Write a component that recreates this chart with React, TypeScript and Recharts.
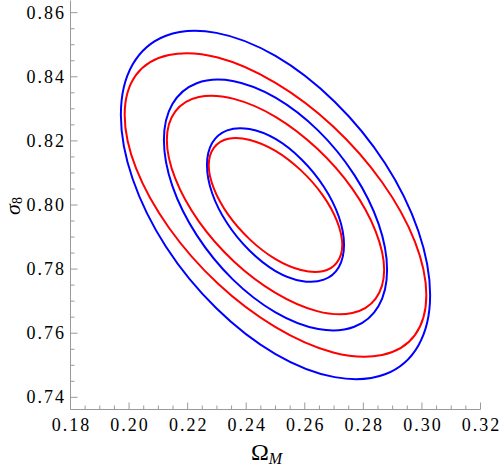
import React from 'react';
import { LineChart, Line, XAxis, YAxis } from 'recharts';

// contour points (Omega_M, sigma_8), 16 per ellipse
const blueOuter = [
  [0.3028, 0.7719], [0.2988, 0.7918], [0.2874, 0.8130], [0.2702, 0.8322],
  [0.2500, 0.8465], [0.2298, 0.8537], [0.2126, 0.8528], [0.2012, 0.8438],
  [0.1972, 0.8281], [0.2012, 0.8082], [0.2126, 0.7870], [0.2298, 0.7678],
  [0.2500, 0.7535], [0.2702, 0.7463], [0.2874, 0.7472], [0.2988, 0.7562],
];
const redOuter = [
  [0.3015, 0.7719], [0.2976, 0.7886], [0.2864, 0.8071], [0.2697, 0.8245],
  [0.2500, 0.8381], [0.2303, 0.8460], [0.2136, 0.8468], [0.2024, 0.8406],
  [0.1985, 0.8281], [0.2024, 0.8114], [0.2136, 0.7929], [0.2303, 0.7755],
  [0.2500, 0.7619], [0.2697, 0.7540], [0.2864, 0.7532], [0.2976, 0.7594],
];
const blueMid = [
  [0.2881, 0.7798], [0.2852, 0.7941], [0.2769, 0.8094], [0.2646, 0.8232],
  [0.2500, 0.8335], [0.2354, 0.8387], [0.2231, 0.8380], [0.2148, 0.8315],
  [0.2119, 0.8203], [0.2148, 0.8059], [0.2231, 0.7906], [0.2354, 0.7768],
  [0.2500, 0.7665], [0.2646, 0.7613], [0.2769, 0.7620], [0.2852, 0.7685],
];
const redMid = [
  [0.2871, 0.7798], [0.2842, 0.7918], [0.2762, 0.8051], [0.2642, 0.8176],
  [0.2500, 0.8275], [0.2358, 0.8331], [0.2238, 0.8337], [0.2158, 0.8292],
  [0.2129, 0.8203], [0.2158, 0.8082], [0.2238, 0.7949], [0.2358, 0.7824],
  [0.2500, 0.7726], [0.2642, 0.7669], [0.2762, 0.7663], [0.2842, 0.7708],
];
const blueInner = [
  [0.2734, 0.7876], [0.2716, 0.7964], [0.2665, 0.8057], [0.2589, 0.8142],
  [0.2500, 0.8206], [0.2411, 0.8237], [0.2335, 0.8233], [0.2284, 0.8194],
  [0.2266, 0.8124], [0.2284, 0.8036], [0.2335, 0.7943], [0.2411, 0.7858],
  [0.2500, 0.7794], [0.2589, 0.7763], [0.2665, 0.7767], [0.2716, 0.7806],
];
const redInner = [
  [0.2728, 0.7876], [0.2710, 0.7950], [0.2661, 0.8031], [0.2587, 0.8108],
  [0.2500, 0.8169], [0.2413, 0.8203], [0.2339, 0.8207], [0.2290, 0.8179],
  [0.2272, 0.8124], [0.2290, 0.8050], [0.2339, 0.7969], [0.2413, 0.7892],
  [0.2500, 0.7831], [0.2587, 0.7797], [0.2661, 0.7793], [0.2710, 0.7821],
];

const xTicks = [
  0.18, 0.185, 0.19, 0.195, 0.2, 0.205, 0.21, 0.215, 0.22, 0.225, 0.23, 0.235, 0.24, 0.245, 0.25,
  0.255, 0.26, 0.265, 0.27, 0.275, 0.28, 0.285, 0.29, 0.295, 0.3, 0.305, 0.31, 0.315, 0.32,
];
const yTicks = [
  0.74, 0.745, 0.75, 0.755, 0.76, 0.765, 0.77, 0.775, 0.78, 0.785, 0.79, 0.795, 0.8,
  0.805, 0.81, 0.815, 0.82, 0.825, 0.83, 0.835, 0.84, 0.845, 0.85, 0.855, 0.86,
];
const xLabels = [0.18, 0.2, 0.22, 0.24, 0.26, 0.28, 0.3, 0.32];
const yLabels = [0.74, 0.76, 0.78, 0.8, 0.82, 0.84, 0.86];

const FRAME = '#9a9a9a';
const SERIF = '"Liberation Serif", "Times New Roman", serif';
const BLUE = '#0000ff';
const RED = '#ff0000';

const isLabel = (list: number[], v: number) => list.some((t) => Math.abs(t - v) < 1e-6);
const toPoints = (arr: number[][]) => arr.map(([x, y]) => ({ x, y }));

// closed Catmull-Rom curve so the contours come out smooth and closed
const closedSpline = (context: any) => {
  let pts: number[][] = [];
  return {
    areaStart() {},
    areaEnd() {},
    lineStart() {
      pts = [];
    },
    point(x: number, y: number) {
      pts.push([+x, +y]);
    },
    lineEnd() {
      const n = pts.length;
      if (!n) return;
      context.moveTo(pts[0][0], pts[0][1]);
      for (let i = 0; i < n; i++) {
        const a = pts[(i + n - 1) % n];
        const b = pts[i];
        const c = pts[(i + 1) % n];
        const d = pts[(i + 2) % n];
        context.bezierCurveTo(
          b[0] + (c[0] - a[0]) / 6, b[1] + (c[1] - a[1]) / 6,
          c[0] - (d[0] - b[0]) / 6, c[1] - (d[1] - b[1]) / 6,
          c[0], c[1]
        );
      }
      context.closePath();
    },
  };
};

const tickText = { fontFamily: SERIF, fontSize: 18, letterSpacing: 2, fill: '#000' };

const BottomTick = ({ x, y, payload }: any) => {
  const major = isLabel(xLabels, payload.value);
  return (
    <g>
      <line x1={x} x2={x} y1={y} y2={y - (major ? 7 : 4)} stroke={FRAME} />
      {major && (
        <text x={x + 1} y={y + 21.5} textAnchor="middle" {...tickText}>
          {payload.value.toFixed(2)}
        </text>
      )}
    </g>
  );
};

const LeftTick = ({ x, y, payload }: any) => {
  const major = isLabel(yLabels, payload.value);
  return (
    <g>
      <line x1={x} x2={x + (major ? 7 : 4)} y1={y} y2={y} stroke={FRAME} />
      {major && (
        <text x={x - 4.5} y={y + 6} textAnchor="end" {...tickText}>
          {payload.value.toFixed(2)}
        </text>
      )}
    </g>
  );
};

const TopTick = ({ x, y, payload }: any) => {
  const major = isLabel(xLabels, payload.value);
  return <line x1={x} x2={x} y1={y} y2={y + (major ? 7 : 4)} stroke={FRAME} />;
};

const RightTick = ({ x, y, payload }: any) => {
  const major = isLabel(yLabels, payload.value);
  return <line x1={x} x2={x - (major ? 7 : 4)} y1={y} y2={y} stroke={FRAME} />;
};

const OmegaLabel = () => (
  <text x={251} y={460} fontFamily={SERIF} fontSize={24} fill="#000">
    Ω
    <tspan fontStyle="italic" fontSize={16} dy={3.5}>M</tspan>
  </text>
);

const SigmaLabel = () => (
  <text transform="translate(20,206) rotate(-90)" textAnchor="middle" fontFamily={SERIF} fontSize={22} fill="#000">
    <tspan fontStyle="italic">σ</tspan>
    <tspan fontSize={14} dy={2}>8</tspan>
  </text>
);

const series = [
  { name: 'blue3', pts: blueOuter, color: BLUE, main: true },
  { name: 'red3', pts: redOuter, color: RED, main: false },
  { name: 'blue2', pts: blueMid, color: BLUE, main: true },
  { name: 'red2', pts: redMid, color: RED, main: false },
  { name: 'blue1', pts: blueInner, color: BLUE, main: true },
  { name: 'red1', pts: redInner, color: RED, main: false },
];

export default function App() {
  return (
    <div style={{ position: 'absolute', left: 0, top: 0, width: 500, height: 467, background: '#fff' }}>
      <LineChart width={500} height={467} margin={{ top: 0.5, right: 19.5, bottom: 17.5, left: 10.5 }}>
        <XAxis
          xAxisId="b"
          type="number"
          dataKey="x"
          domain={[0.18, 0.32]}
          allowDataOverflow
          ticks={xTicks}
          interval={0}
          tickSize={0}
          tickMargin={0}
          tickLine={false}
          tick={(p: any) => <BottomTick {...p} />}
          axisLine={{ stroke: FRAME }}
          height={40}
          label={<OmegaLabel />}
        />
        <XAxis
          xAxisId="t"
          orientation="top"
          type="number"
          dataKey="x"
          domain={[0.18, 0.32]}
          allowDataOverflow
          ticks={xTicks}
          interval={0}
          tickSize={0}
          tickMargin={0}
          tickLine={false}
          tick={(p: any) => <TopTick {...p} />}
          axisLine={{ stroke: FRAME }}
          height={0}
        />
        <YAxis
          yAxisId="l"
          type="number"
          dataKey="y"
          domain={[0.7362, 0.8638]}
          allowDataOverflow
          ticks={yTicks}
          interval={0}
          tickSize={0}
          tickMargin={0}
          tickLine={false}
          tick={(p: any) => <LeftTick {...p} />}
          axisLine={{ stroke: FRAME }}
          width={60}
          label={<SigmaLabel />}
        />
        <YAxis
          yAxisId="r"
          orientation="right"
          type="number"
          dataKey="y"
          domain={[0.7362, 0.8638]}
          allowDataOverflow
          ticks={yTicks}
          interval={0}
          tickSize={0}
          tickMargin={0}
          tickLine={false}
          tick={(p: any) => <RightTick {...p} />}
          axisLine={{ stroke: FRAME }}
          width={0}
        />
        {series.map((s) => (
          <Line
            key={s.name}
            data={toPoints(s.pts)}
            dataKey="y"
            xAxisId={s.main ? 'b' : 't'}
            yAxisId={s.main ? 'l' : 'r'}
            type={closedSpline as any}
            stroke={s.color}
            strokeWidth={2}
            dot={false}
            activeDot={false}
            isAnimationActive={false}
          />
        ))}
      </LineChart>
    </div>
  );
}
